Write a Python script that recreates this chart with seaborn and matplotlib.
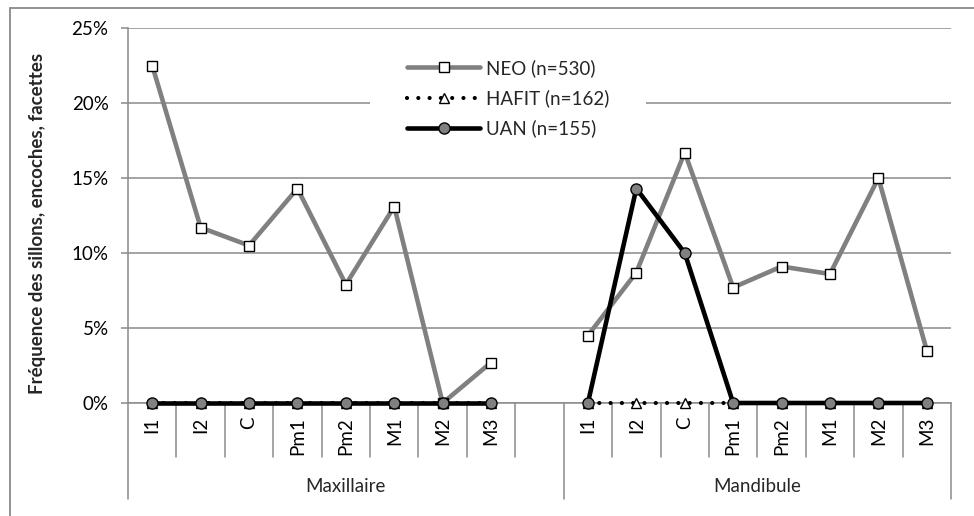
import numpy as np
import pandas as pd
import matplotlib
matplotlib.use("Agg")
import matplotlib.pyplot as plt
import matplotlib.transforms as mtransforms
from matplotlib.lines import Line2D
from matplotlib.patches import Rectangle
import seaborn as sns

# ---- data ----
teeth = ["I1", "I2", "C", "Pm1", "Pm2", "M1", "M2", "M3"]
jaws = ["Maxillaire", "Mandibule"]

neo_max = [22.5, 11.7, 10.5, 14.3, 7.9, 13.1, 0.0, 2.7]
neo_mand = [4.5, 8.7, 16.7, 7.7, 9.1, 8.6, 15.0, 3.5]
hafit_max = [0, 0, 0, 0, 0, 0, 0, 0]
hafit_mand = [0, 0, 0, 0, 0, 0, 0, 0]
uan_max = [0, 0, 0, 0, 0, 0, 0, 0]
uan_mand = [0, 14.3, 10.0, 0, 0, 0, 0, 0]

series_names = ["NEO (n=530)", "HAFIT (n=162)", "UAN (n=155)"]
series_values = [(neo_max, neo_mand), (hafit_max, hafit_mand), (uan_max, uan_mand)]

# long table: one gap slot between the two jaws
rows = []
for name, (vmax, vmand) in zip(series_names, series_values):
    for i, t in enumerate(teeth):
        rows.append({"serie": name, "jaw": "Maxillaire", "tooth": t, "pos": i, "val": vmax[i]})
    for i, t in enumerate(teeth):
        rows.append({"serie": name, "jaw": "Mandibule", "tooth": t, "pos": i + len(teeth) + 1, "val": vmand[i]})
df = pd.DataFrame(rows)

sns.set_style("white")
plt.rcParams["font.family"] = ["Lato", "DejaVu Sans"]

W, H = 974, 516
fig = plt.figure(figsize=(W / 100, H / 100), dpi=100)
left, right, top, bottom = 128, 951, 28, 403
ax = fig.add_axes([left / W, 1 - bottom / H, (right - left) / W, (bottom - top) / H])

GRAY = "#808080"
GRID = "#8a8a8a"
FS = 13.5

styles = {
    "NEO (n=530)": dict(color=GRAY, lw=3.3, ls="-", marker="s", ms=7.5,
                        markerfacecolor="white", markeredgecolor="black", markeredgewidth=1.0),
    "HAFIT (n=162)": dict(color="black", lw=3.0, ls=(0, (0.01, 2.7)), dash_capstyle="round",
                          marker="^", ms=7, markerfacecolor="white",
                          markeredgecolor="black", markeredgewidth=1.0),
    "UAN (n=155)": dict(color="black", lw=3.3, ls="-", marker="o", ms=8,
                        markerfacecolor=GRAY, markeredgecolor="black", markeredgewidth=1.0),
}

for k, name in enumerate(series_names):
    for jaw in jaws:
        sub = df[(df.serie == name) & (df.jaw == jaw)]
        sns.lineplot(data=sub, x="pos", y="val", ax=ax, zorder=3 + k,
                     label=name if jaw == "Maxillaire" else None,
                     clip_on=False, **styles[name])

n_slots = 2 * len(teeth) + 1
ax.set_xlim(-0.5, n_slots - 0.5)
ax.set_ylim(0, 25)
ax.set_yticks([0, 5, 10, 15, 20, 25])
ax.set_yticklabels([f"{v}%" for v in [0, 5, 10, 15, 20, 25]])
ax.yaxis.grid(True, color=GRID, lw=1.1)
ax.set_axisbelow(True)
ax.tick_params(axis="y", which="both", left=True, length=5, width=1.1, color=GRID,
               pad=9, labelsize=FS, labelcolor="black")

positions = list(range(len(teeth))) + list(range(len(teeth) + 1, n_slots))
ax.set_xticks(positions)
ax.set_xticklabels(teeth + teeth, rotation=90, va="top", ha="center")
ax.tick_params(axis="x", length=0, pad=10, labelsize=FS, labelcolor="black")
ax.set_xlabel("")
ax.set_ylabel("Fréquence des sillons, encoches, facettes", fontsize=FS, fontweight="bold")
ax.yaxis.set_label_coords(-0.1, 0.48)

for s in ["top", "right"]:
    ax.spines[s].set_visible(False)
ax.spines["left"].set_color(GRID)
ax.spines["left"].set_linewidth(1.1)
ax.spines["bottom"].set_color(GRID)
ax.spines["bottom"].set_linewidth(1.1)
ax.spines["bottom"].set_zorder(2)

# category separators below the axis
trans = mtransforms.blended_transform_factory(ax.transData, ax.transAxes)
short_len = -54 / (bottom - top)
long_len = -96 / (bottom - top)
group_edges = [-0.5, len(teeth) + 0.5, n_slots - 0.5]
for b in np.arange(-0.5, n_slots, 1.0):
    y_end = long_len if any(abs(b - g) < 1e-6 for g in group_edges) else short_len
    ax.plot([b, b], [0, y_end], color=GRID, lw=1.1, transform=trans, clip_on=False)

# jaw labels
centers = [(group_edges[0] + group_edges[1]) / 2, (group_edges[1] + group_edges[2]) / 2]
for c, jaw in zip(centers, jaws):
    ax.text(c, -83 / (bottom - top), jaw, transform=trans, ha="center", va="center", fontsize=FS)

# white area behind the legend
ax.add_patch(Rectangle((370 / W, 1 - 150 / H), (646 - 370) / W, 95 / H,
                       transform=fig.transFigure, facecolor="white", edgecolor="none", zorder=1))

leg = ax.legend(loc="upper left", bbox_to_anchor=(407 / W, 1 - 59 / H),
                bbox_transform=fig.transFigure, frameon=False, fontsize=FS,
                handlelength=3.9, handletextpad=0.3, labelspacing=0.66,
                borderpad=0, borderaxespad=0)

# outer chart frame (top and left edges)
fig.add_artist(Line2D([10 / W, 10 / W], [0, 1 - 8 / H], color=GRID, lw=1.3))
fig.add_artist(Line2D([10 / W, 1], [1 - 8 / H, 1 - 8 / H], color=GRID, lw=1.3))

fig.savefig("out.png", dpi=100)
